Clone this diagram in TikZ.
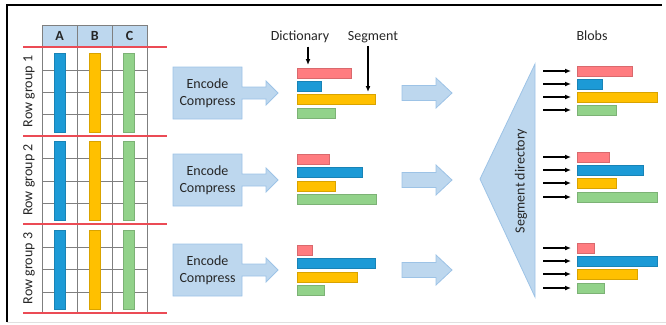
\documentclass[tikz,border=0pt]{standalone}
\usepackage{fontspec}
\setmainfont{Carlito}
\usetikzlibrary{arrows.meta}

\definecolor{pinkbar}{HTML}{FF7C80}
\definecolor{bluebar}{HTML}{1C9AD6}
\definecolor{yellowbar}{HTML}{FFC000}
\definecolor{greenbar}{HTML}{92D28A}
\definecolor{paleblue}{HTML}{BDD7EE}
\definecolor{paleedge}{HTML}{9DC3E6}
\definecolor{gridgray}{HTML}{7F7F7F}
\definecolor{groupred}{HTML}{EB4B55}
\definecolor{inkgray}{HTML}{262626}

\tikzset{
  bar/.style={draw=#1!85!black, fill=#1, line width=0.6pt, inner sep=0pt,
    minimum height=10pt, anchor=west},
  colbar/.style={draw=#1!85!black, fill=#1, line width=0.6pt},
  head/.style={draw=gridgray, fill=paleblue, inner sep=0pt, anchor=north west,
    minimum width=35pt, minimum height=22pt},
  gridline/.style={draw=gridgray, line width=0.8pt},
  sepline/.style={draw=groupred, line width=1.6pt},
  lightshape/.style={draw=paleedge, fill=paleblue, line width=0.8pt},
  pointer/.style={-{Latex[length=6pt,width=5pt]}, line width=1.3pt, black}
}

\begin{document}
\begin{tikzpicture}[x=1pt, y=-1pt, font=\fontsize{14}{17}\selectfont, text=inkgray]
  \useasboundingbox (0,0) rectangle (666,324);

  % Frame
  \draw[line width=2pt] (7,322) -- (7,5) -- (662,5);
  \draw[black!12, line width=0.8pt] (7,322) -- (666,322);

  % Column headers
  \foreach \x/\h in {42/A, 77/B, 112/C}
    \node[head] (h\h) at (\x,25) {\textbf{\h}};

  % Table grid
  \foreach \y in {70,92,114,158,181,203,247,269,292}
    \draw[gridline] (42,\y) -- (147,\y);
  \foreach \x in {42,77,112,147}
    \draw[gridline] (\x,47) -- (\x,313);

  % Row group separators
  \foreach \y in {47,136,224,313}
    \draw[sepline] (23,\y) -- (167,\y);

  % Column data
  \foreach \t in {53,141,230} {
    \filldraw[colbar=bluebar] (54,\t) rectangle ++(11,79);
    \filldraw[colbar=yellowbar] (89,\t) rectangle ++(11,79);
    \filldraw[colbar=greenbar] (123,\t) rectangle ++(11,79);
  }

  % Row group labels
  \node[rotate=90] (rg1) at (29,91.5) {Row group 1};
  \node[rotate=90] (rg2) at (29,180) {Row group 2};
  \node[rotate=90] (rg3) at (29,268.5) {Row group 3};

  % Encode / compress callouts
  \foreach \n/\c in {1/93, 2/180, 3/270} {
    \draw[lightshape] (173,\c-26) -- (242,\c-26) -- (242,\c-6) -- (266,\c-6)
      -- (266,\c-12) -- (278,\c) -- (266,\c+12) -- (266,\c+6) -- (242,\c+6)
      -- (242,\c+26) -- (173,\c+26) -- cycle;
    \node[align=center] (enc\n) at (207.5,\c) {Encode\\Compress};
  }

  % Segments of each row group
  \foreach \n/\y/\w/\c in {1a/73/54/pinkbar, 1b/86/24/bluebar, 1c/99/78/yellowbar, 1d/113/38/greenbar,
      2a/159/32/pinkbar, 2b/172/65/bluebar, 2c/186/38/yellowbar, 2d/199/79/greenbar,
      3a/250/15/pinkbar, 3b/263/78/bluebar, 3c/277/60/yellowbar, 3d/290/27/greenbar}
    \node[bar=\c, minimum width=\w] (seg\n) at (297,\y) {};

  \node (dict) at (300,37) {Dictionary};
  \node (segm) at (373,37) {Segment};
  \coordinate (dtip) at (308,65);
  \coordinate (stip) at (368,92);
  \draw[pointer] (dict.south -| dtip) -- (dtip);
  \draw[pointer] (segm.south -| stip) -- (stip);

  % Arrows into the segment directory
  \foreach \c in {93,180,270}
    \draw[lightshape] (402,\c-7.5) -- (436,\c-7.5) -- (436,\c-15) -- (452,\c)
      -- (436,\c+15) -- (436,\c+7.5) -- (402,\c+7.5) -- cycle;

  % Segment directory
  \draw[lightshape] (535,64) -- (480,179) -- (535,297) -- cycle;
  \node[rotate=90] (segdir) at (521,181) {Segment directory};

  % Blobs
  \node (blobs) at (592,36) {Blobs};
  \foreach \n/\y/\w/\c in {11/71/55/pinkbar, 12/84/25/bluebar, 13/97/80/yellowbar, 14/110/39/greenbar,
      21/157/32/pinkbar, 22/170/66/bluebar, 23/183/39/yellowbar, 24/197/80/greenbar,
      31/248/17/pinkbar, 32/261/80/bluebar, 33/274/60/yellowbar, 34/288/27/greenbar} {
    \node[bar=\c, minimum width=\w] (b\n) at (577,\y) {};
    \coordinate (s\n) at (543,\y);
    \draw[pointer, shorten >=6pt] (s\n) -- (b\n);
  }
\end{tikzpicture}
\end{document}
